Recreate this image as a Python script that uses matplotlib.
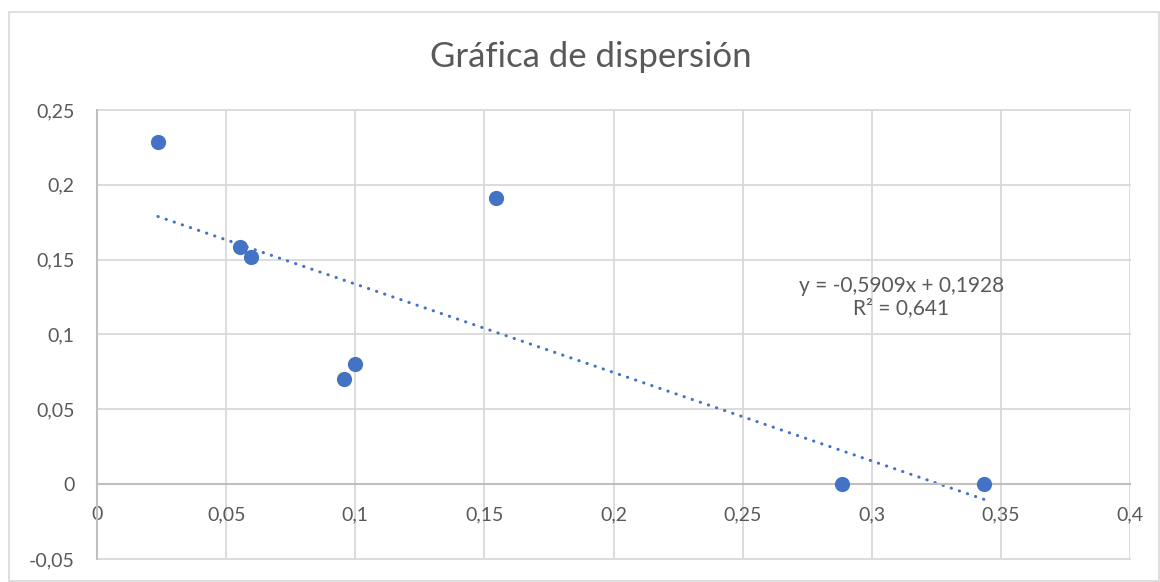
import matplotlib
matplotlib.use("Agg")
import matplotlib.pyplot as plt
from matplotlib.ticker import MultipleLocator, FuncFormatter
from matplotlib.patches import Rectangle

# datos
x_vals = [0.0236, 0.0553, 0.0596, 0.0955, 0.0998, 0.1544, 0.2886, 0.3435]
y_vals = [0.2288, 0.1585, 0.1520, 0.0700, 0.0803, 0.1915, 0.0, 0.0]
slope = -0.5909
intercept = 0.1928
r2_text = "0,641"
title = "Gráfica de dispersión"

plt.rcParams["font.family"] = ["Lato", "DejaVu Sans"]
text_col = "#595959"
grid_col = "#d9d9d9"
axis_col = "#bfbfbf"
point_col = "#4472C4"

fig = plt.figure(figsize=(11.6, 5.82), dpi=100)
# borde del área del gráfico
fig.patches.append(Rectangle((9 / 1160, 1 / 582), 1150 / 1160, 569 / 582,
                             transform=fig.transFigure, fill=False,
                             edgecolor=grid_col, linewidth=1.2))

ax = fig.add_axes([97 / 1160, 23 / 582, 1033 / 1160, 449 / 582])
ax.set_xlim(0, 0.4)
ax.set_ylim(-0.05, 0.25)
ax.xaxis.set_major_locator(MultipleLocator(0.05))
ax.yaxis.set_major_locator(MultipleLocator(0.05))

def fmt(v, pos):
    s = f"{v:.2f}".rstrip("0").rstrip(".")
    if s in ("-0", "0"):
        return "0"
    return s.replace(".", ",")

ax.xaxis.set_major_formatter(FuncFormatter(fmt))
ax.yaxis.set_major_formatter(FuncFormatter(fmt))

ax.grid(True, color=grid_col, linewidth=1.3)
ax.set_axisbelow(True)
for g in ax.get_xgridlines() + ax.get_ygridlines():
    g.set_clip_on(False)

for side in ("top", "right"):
    ax.spines[side].set_visible(False)
ax.spines["bottom"].set_position(("data", 0))
ax.spines["bottom"].set_color(axis_col)
ax.spines["bottom"].set_linewidth(1.5)
ax.spines["left"].set_color(axis_col)
ax.spines["left"].set_linewidth(1.5)
ax.tick_params(length=0, labelsize=14, labelcolor=text_col)
ax.tick_params(axis="x", pad=16)
ax.tick_params(axis="y", pad=16)

ax.scatter(x_vals, y_vals, s=120, color=point_col, zorder=3, linewidths=0)

x0, x1 = min(x_vals), max(x_vals)
ax.plot([x0, x1], [slope * x0 + intercept, slope * x1 + intercept],
        color=point_col, linewidth=2.2, linestyle=(0, (0.1, 2.7)),
        dash_capstyle="round", zorder=2)

eq = f"y = {slope:.4f}x + {intercept:.4f}".replace(".", ",")
ax.text(0.3115, 0.1248, eq + "\nR² = " + r2_text, ha="center", va="center",
        fontsize=15, color=text_col, linespacing=1.15)

fig.text(591 / 1160, 1 - 57 / 582, title, ha="center", va="center",
         fontsize=25, color=text_col)

fig.savefig("out.png", dpi=100)
